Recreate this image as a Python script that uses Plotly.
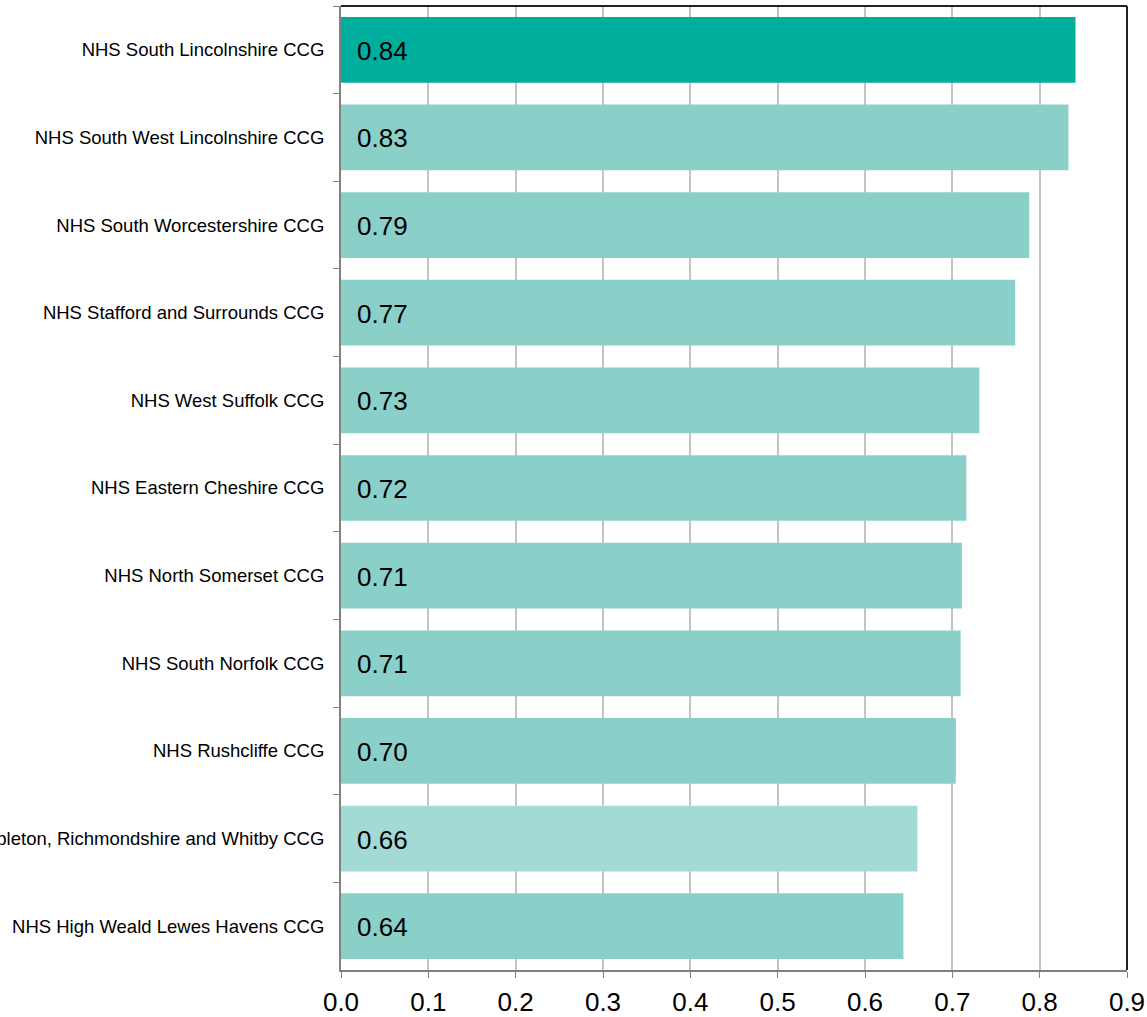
import plotly.graph_objects as go

categories = [
    "NHS South Lincolnshire CCG",
    "NHS South West Lincolnshire CCG",
    "NHS South Worcestershire CCG",
    "NHS Stafford and Surrounds CCG",
    "NHS West Suffolk CCG",
    "NHS Eastern Cheshire CCG",
    "NHS North Somerset CCG",
    "NHS South Norfolk CCG",
    "NHS Rushcliffe CCG",
    "NHS Hambleton, Richmondshire and Whitby CCG",
    "NHS High Weald Lewes Havens CCG",
]
values = [0.841, 0.833, 0.788, 0.772, 0.731, 0.716, 0.711, 0.7095, 0.704, 0.660, 0.644]
bar_colors = ["#00AE9E"] + ["#8BD0C8"] * 8 + ["#A3DAD5", "#8BD0C8"]
x_ticks = [0.0, 0.1, 0.2, 0.3, 0.4, 0.5, 0.6, 0.7, 0.8, 0.9]

fig = go.Figure()
fig.add_trace(go.Bar(
    y=categories, x=values, orientation="h",
    marker=dict(color=bar_colors, line=dict(width=0)),
    width=0.75, hoverinfo="skip",
))
for c, v in zip(categories, values):
    fig.add_annotation(x=0, y=c, text=f"{v:.2f}", showarrow=False,
                       xanchor="left", xshift=14, yshift=-1,
                       font=dict(family="Liberation Sans, Arial", size=26, color="#000000"))

fig.update_layout(
    width=1147, height=1017,
    margin=dict(l=341, r=20, t=6, b=47),
    paper_bgcolor="white", plot_bgcolor="white",
    showlegend=False,
    font=dict(family="Liberation Sans, Arial", color="#000000"),
    xaxis=dict(range=[0, 0.9], tickvals=x_ticks, ticktext=[f"{t:.1f}" for t in x_ticks],
               showgrid=True, gridcolor="#C4C4C4", gridwidth=2,
               showline=True, linecolor="#808080", linewidth=2,
               ticks="outside", ticklen=6, tickcolor="#808080", tickwidth=1,
               tickfont=dict(size=26), zeroline=False, fixedrange=True,
               ticklabelstandoff=2, automargin=False),
    yaxis=dict(categoryorder="array", categoryarray=categories, autorange="reversed",
               showline=True, linecolor="#808080", linewidth=2,
               ticks="outside", ticklen=6, tickcolor="#808080", tickson="boundaries",
               tickfont=dict(size=18.5), showgrid=False, automargin=False,
               ticklabelstandoff=11, fixedrange=True),
    shapes=[
        dict(type="line", xref="x domain", yref="y domain", x0=0, x1=1, y0=1, y1=1,
             line=dict(color="#222222", width=2)),
        dict(type="line", xref="x domain", yref="y domain", x0=1, x1=1, y0=0, y1=1,
             line=dict(color="#222222", width=2)),
    ],
)
fig.write_html(
    "out.html",
    config={"displayModeBar": False},
    post_script=(
        "document.body.style.margin='0';"
        "document.body.style.overflow='hidden';"
        "document.documentElement.style.overflow='hidden';"
    ),
)
